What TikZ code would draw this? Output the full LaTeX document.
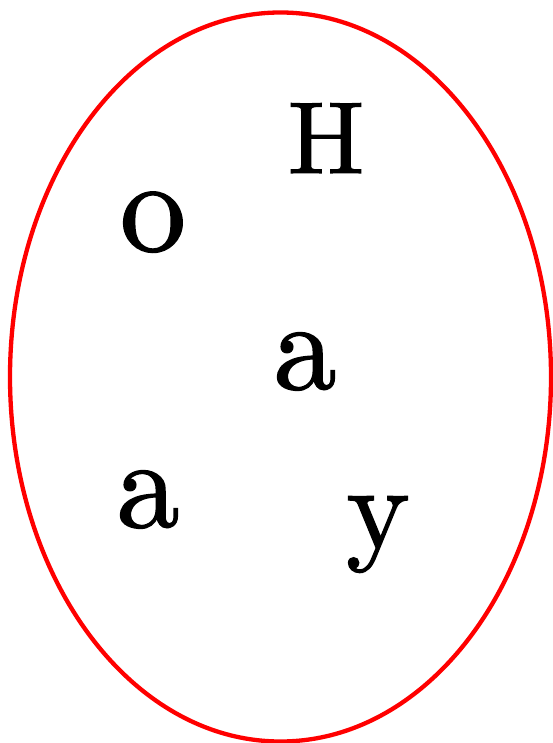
\documentclass[tikz,border=0pt]{standalone}
\usepackage{fontspec}
\setmainfont{Latin Modern Roman}
\begin{document}
\begin{tikzpicture}[x=1pt,y=-1pt,
  letter/.style={inner sep=0pt,anchor=base,font=\normalsize\addfontfeature{FakeBold=1.2}}]
\useasboundingbox (0,0) rectangle (552,743);
\draw[red,line width=4.3pt] (280.5,377) ellipse [x radius=270.5,y radius=364.5];
\node[letter,scale=10.2] (h) at (326,173) {H};
\node[letter,scale=13.2] (o) at (153,251) {o};
\node[letter,scale=12.6] (a1) at (305,389) {a};
\node[letter,scale=12.6] (a2) at (148,527) {a};
\node[letter,scale=12] (y) at (378,548) {y};
\end{tikzpicture}
\end{document}
